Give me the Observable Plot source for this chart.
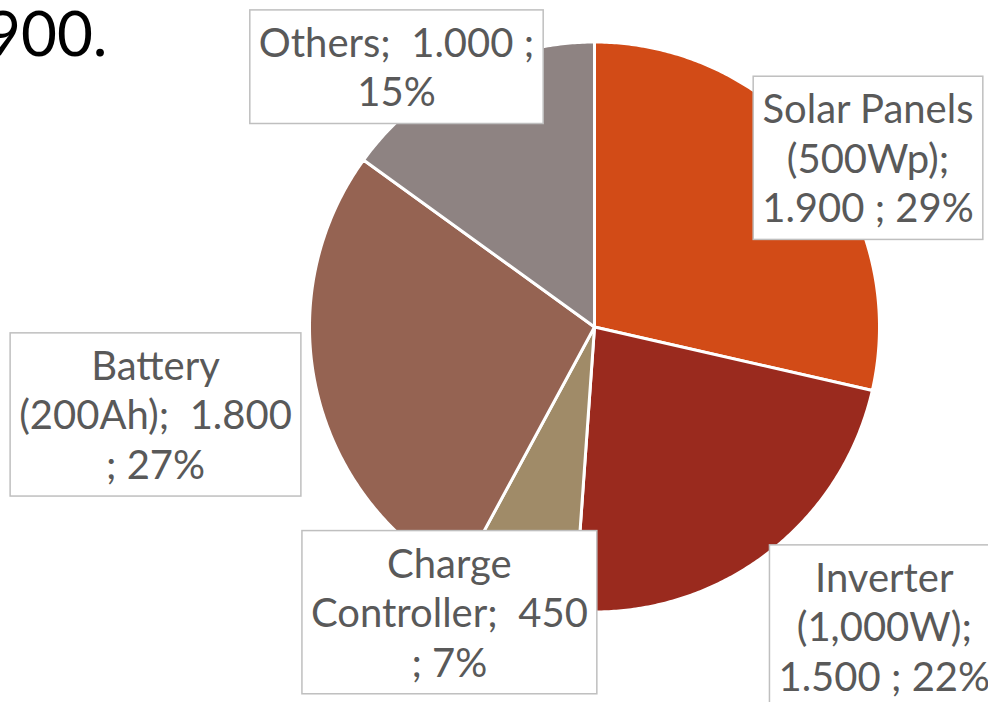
<!DOCTYPE html>
<html>
<head>
<meta charset="utf-8">
<script src="https://cdn.jsdelivr.net/npm/d3@7"></script>
<script src="https://cdn.jsdelivr.net/npm/@observablehq/plot@0.6"></script>
<style>
  html, body { margin: 0; padding: 0; background: #ffffff; }
  #chart { width: 988px; height: 702px; overflow: hidden; }
  #chart svg text { white-space: pre; }
</style>
</head>
<body>
<div id="chart"></div>
<script>
// ---- data ----
const categories = ["Solar Panels (500Wp)", "Inverter (1,000W)", "Charge Controller", "Battery (200Ah)", "Others"];
const values = [1900, 1500, 450, 1800, 1000];
const valueLabels = ["1.900", "1.500", "450", "1.800", "1.000"];
const percentLabels = ["29%", "22%", "7%", "27%", "15%"];
const labelTexts = [
  "Solar Panels\n(500Wp);\n1.900 ; 29%",
  "Inverter\n(1,000W);\n1.500 ; 22%",
  "Charge\nController;  450\n; 7%",
  "Battery\n(200Ah);  1.800\n; 27%",
  "Others;  1.000 ;\n15%"
];
const colors = ["#D24B17", "#9A2A1E", "#A08B68", "#956352", "#8E8382"];
const titleText = "900.";

// ---- layout (not data) ----
const W = 988, H = 702;
const R = 285;               // pie radius in px
const cx = 594, cy = 326.5;  // pie centre in px
// label placement relative to slice mid-angle: [angle shift (deg), distance in radii]
const labelLayout = [[6.7, 1.13], [-7.6, 1.46], [10.8, 1.12], [1.7, 1.57], [-10.1, 1.15]];

// pie geometry via d3.pie (angles clockwise from 12 o'clock)
const arcs = d3.pie().sort(null).value(d => d)(values);
const slicePts = [];
arcs.forEach((a, i) => {
  const name = categories[i];
  slicePts.push({name, x: 0, y: 0});
  const steps = Math.max(2, Math.ceil((a.endAngle - a.startAngle) / (Math.PI / 360)));
  for (let k = 0; k <= steps; k++) {
    const t = a.startAngle + (a.endAngle - a.startAngle) * k / steps;
    slicePts.push({name, x: Math.sin(t), y: Math.cos(t)});
  }
  slicePts.push({name, x: 0, y: 0});
});

const labels = arcs.map((a, i) => {
  const mid = (a.startAngle + a.endAngle) / 2 + labelLayout[i][0] * Math.PI / 180;
  const r = labelLayout[i][1];
  return {name: categories[i], text: labelTexts[i], x: r * Math.sin(mid), y: r * Math.cos(mid)};
});

const chart = Plot.plot({
  width: W,
  height: H,
  margin: 0,
  x: {domain: [-cx / R, (W - cx) / R], axis: null},
  y: {domain: [-(H - cy) / R, cy / R], axis: null},
  color: {domain: categories, range: colors},
  style: {background: "#ffffff"},
  marks: [
    Plot.line(slicePts, {
      x: "x", y: "y", z: "name", fill: "name",
      stroke: "#ffffff", strokeWidth: 3, strokeLinejoin: "round", curve: "linear"
    }),
    Plot.text(labels, {
      x: "x", y: "y", text: "text",
      fontFamily: "Lato, 'Open Sans', sans-serif", fontSize: 40, lineHeight: 1.24,
      fill: "#595959", textAnchor: "middle", lineAnchor: "middle"
    }),
    Plot.text([titleText], {
      frameAnchor: "top-left", dx: 107, dy: 55, text: d => d,
      textAnchor: "end", lineAnchor: "bottom",
      fontFamily: "Lato, 'Open Sans', sans-serif", fontSize: 62, fill: "#000000"
    })
  ]
});

document.getElementById("chart").appendChild(chart);

// draw white boxes with grey borders behind the (multi-line) data labels
const labelNodes = Array.from(chart.querySelectorAll("text")).filter(t => t.querySelector("tspan"));
labelNodes.forEach(t => {
  const bb = t.getBBox();
  const padX = 9, padY = 8;
  const rect = document.createElementNS("http://www.w3.org/2000/svg", "rect");
  rect.setAttribute("x", bb.x - padX);
  rect.setAttribute("y", bb.y - padY);
  rect.setAttribute("width", bb.width + 2 * padX);
  rect.setAttribute("height", bb.height + 2 * padY);
  rect.setAttribute("fill", "#ffffff");
  rect.setAttribute("stroke", "#BFBFBF");
  rect.setAttribute("stroke-width", "1.5");
  const tr = t.getAttribute("transform");
  if (tr) rect.setAttribute("transform", tr);
  t.parentNode.insertBefore(rect, t);
});
</script>
</body>
</html>
